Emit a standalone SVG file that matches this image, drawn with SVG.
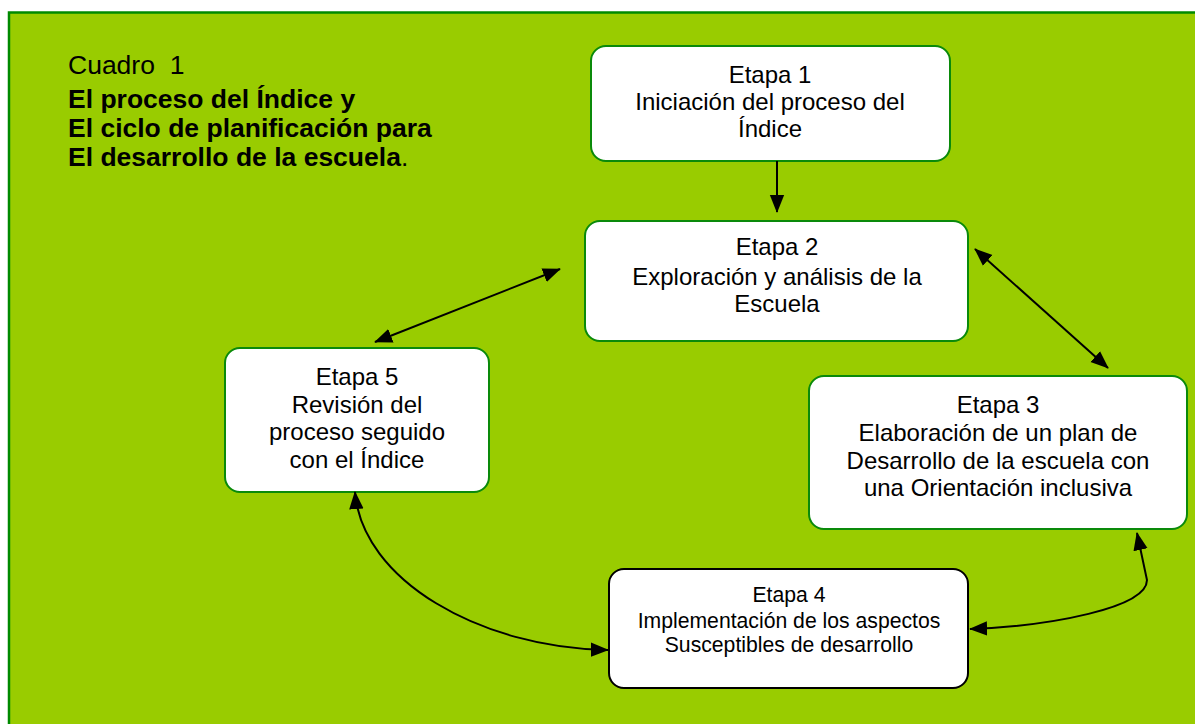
<svg xmlns="http://www.w3.org/2000/svg" width="1195" height="724" viewBox="0 0 1195 724">
<defs>
<style>
.bg{fill:#99cc00;stroke:#008a00;stroke-width:2.5}
.box{fill:#fff;stroke:#0a8a0a;stroke-width:2}
.boxk{fill:#fff;stroke:#000;stroke-width:2}
.t{font-family:"Liberation Sans",Arial,sans-serif;font-size:24px;fill:#000;text-anchor:middle}
.t4{font-family:"Liberation Sans",Arial,sans-serif;font-size:21.2px;fill:#000;text-anchor:middle}
.h{font-family:"Liberation Sans",Arial,sans-serif;font-size:26.5px;fill:#000;white-space:pre}
.c{fill:none;stroke:#000;stroke-width:2}
</style>
<marker id="a" viewBox="0 0 10 10" refX="9.5" refY="5" markerWidth="18" markerHeight="18" markerUnits="userSpaceOnUse" orient="auto-start-reverse">
<path d="M0,1 L10,5 L0,9 Z" fill="#000"/>
</marker>
</defs>
<rect class="bg" x="9" y="12.5" width="1190" height="720"/>
<g id="title">
<text class="h" x="68" y="74" xml:space="preserve">Cuadro  1</text>
<text class="h" x="68" y="108" font-weight="bold">El proceso del Índice y</text>
<text class="h" x="68" y="137" font-weight="bold">El ciclo de planificación para</text>
<text class="h" x="68" y="166"><tspan font-weight="bold">El desarrollo de la escuela</tspan>.</text>
</g>
<g id="etapa1">
<rect class="box" x="591" y="46" width="359" height="115" rx="15"/>
<text class="t" x="770" y="83">Etapa 1</text>
<text class="t" x="770" y="110">Iniciación del proceso del</text>
<text class="t" x="770" y="137">Índice</text>
</g>
<g id="etapa2">
<rect class="box" x="585" y="221" width="383" height="120" rx="15"/>
<text class="t" x="777" y="255">Etapa 2</text>
<text class="t" x="777" y="285">Exploración y análisis de la</text>
<text class="t" x="777" y="312">Escuela</text>
</g>
<g id="etapa5">
<rect class="box" x="225" y="348" width="264" height="144" rx="15"/>
<text class="t" x="357" y="385">Etapa 5</text>
<text class="t" x="357" y="413">Revisión del</text>
<text class="t" x="357" y="440">proceso seguido</text>
<text class="t" x="357" y="468">con el Índice</text>
</g>
<g id="etapa3">
<rect class="box" x="809" y="376" width="378" height="153" rx="15"/>
<text class="t" x="998" y="413">Etapa 3</text>
<text class="t" x="998" y="441">Elaboración de un plan de</text>
<text class="t" x="998" y="469">Desarrollo de la escuela con</text>
<text class="t" x="998" y="496">una Orientación inclusiva</text>
</g>
<g id="etapa4">
<rect class="boxk" x="609" y="569" width="359" height="119" rx="15"/>
<text class="t4" x="789" y="602">Etapa 4</text>
<text class="t4" x="789" y="628">Implementación de los aspectos</text>
<text class="t4" x="789" y="652">Susceptibles de desarrollo</text>
</g>
<g id="connectors">
<path class="c" d="M777,161 L777,212" marker-end="url(#a)"/>
<path class="c" d="M375,342 L560,269" marker-start="url(#a)" marker-end="url(#a)"/>
<path class="c" d="M975,249 L1108,368" marker-start="url(#a)" marker-end="url(#a)"/>
<path class="c" d="M355,492 C362,580 480,648 608,650" marker-start="url(#a)" marker-end="url(#a)"/>
<path class="c" d="M970,629 C1050,626 1147,608 1147,580 L1137,533" marker-start="url(#a)" marker-end="url(#a)"/>
</g>
</svg>
